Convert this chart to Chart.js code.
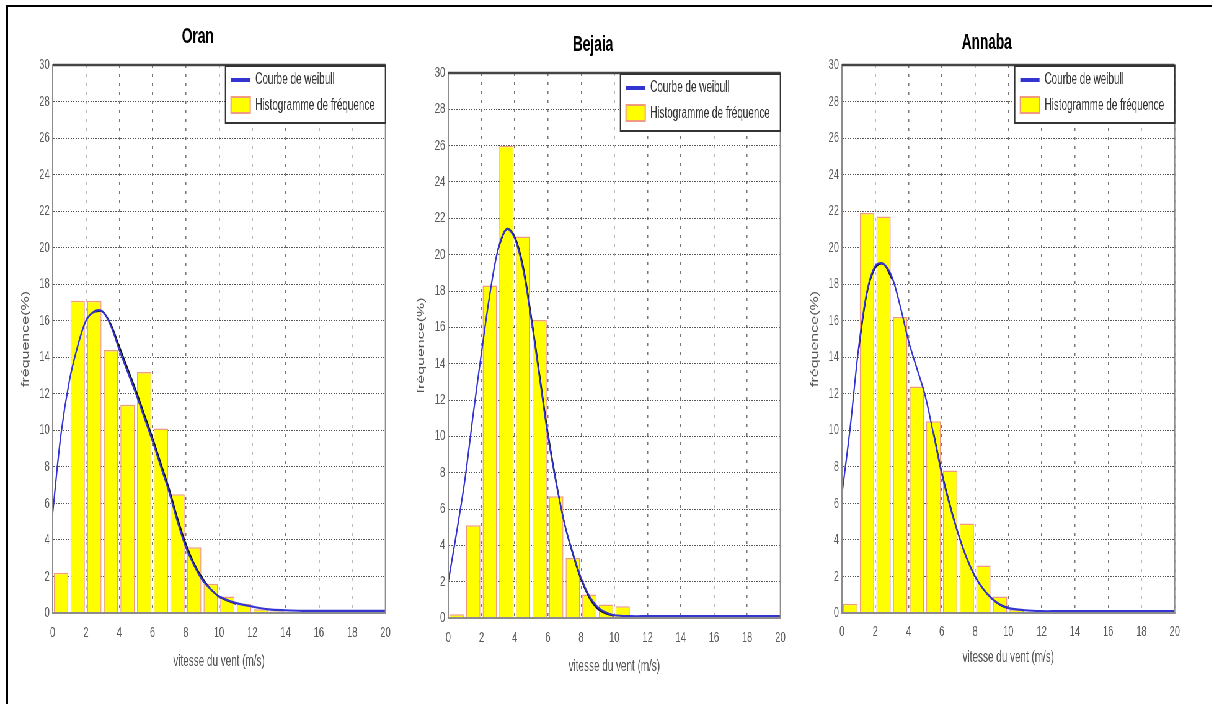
<!DOCTYPE html>
<html>
<head>
<meta charset="utf-8">
<script src="https://cdn.jsdelivr.net/npm/chart.js@4.4.1/dist/chart.umd.min.js"></script>
<style>
  html, body { margin: 0; padding: 0; background: #fff; }
  body { width: 1212px; height: 704px; position: relative; overflow: hidden; }
  #frame { position: absolute; left: 6px; top: 5px; width: 1300px; height: 800px;
           border-left: 2px solid #000; border-top: 2px solid #000; }
  /* the source picture is squeezed horizontally, so the charts are drawn wide and scaled down */
  #wrap { position: absolute; left: 0; top: 0; width: 1955px; height: 704px;
          transform: scaleX(0.62); transform-origin: 0 0; }
  #wrap canvas { position: absolute; top: 0; }
</style>
</head>
<body>
<div id="frame"></div>
<div id="wrap">
  <canvas id="oran"></canvas>
  <canvas id="bejaia"></canvas>
  <canvas id="annaba"></canvas>
</div>
<script>
// bin centres of the histogram (m/s)
const binCenters = [0.5, 1.5, 2.5, 3.5, 4.5, 5.5, 6.5, 7.5, 8.5, 9.5, 10.5, 11.5, 12.5, 13.5];

const oranFreq   = [2.2, 17.1, 17.1, 14.4, 11.4, 13.2, 10.1, 6.5, 3.6, 1.6, 0.9, 0.5, 0.2, 0.1];
const bejaiaFreq = [0.2, 5.1, 18.3, 26.0, 21.0, 16.4, 6.7, 3.3, 1.3, 0.75, 0.65, null, null, null];
const annabaFreq = [0.5, 21.9, 21.7, 16.2, 12.4, 10.5, 7.8, 4.9, 2.6, 0.9, 0.2, null, null, null];

// wind speeds where the weibull curves are read
const curveX = [0, 0.5, 1, 1.5, 2, 2.5, 3, 3.5, 4, 4.5, 5, 5.5, 6, 6.5, 7, 7.5, 8, 8.5, 9, 9.5, 10,
                11, 12, 13, 14, 15, 16, 17, 18, 19, 20];

const oranWeibull = [5.5, 9.8, 12.7, 14.6, 16.0, 16.5, 16.5, 15.7, 14.4, 13.2, 12.0, 10.7, 9.4, 8.0, 6.6,
                     5.0, 3.6, 2.6, 1.8, 1.3, 0.9, 0.55, 0.35, 0.2, 0.15, 0.12, 0.12, 0.12, 0.12, 0.12, 0.12];
const bejaiaWeibull = [2.0, 4.7, 7.6, 11.2, 14.6, 17.8, 20.3, 21.4, 20.9, 19.2, 16.4, 13.2, 10.0, 7.4, 5.2,
                       3.6, 2.2, 1.2, 0.6, 0.3, 0.15, 0.1, 0.1, 0.1, 0.1, 0.1, 0.1, 0.1, 0.1, 0.1, 0.1];
const annabaWeibull = [6.5, 10.2, 14.5, 17.6, 19.0, 19.1, 18.4, 16.8, 14.9, 13.4, 11.9, 9.8, 7.6, 5.8, 4.3,
                       3.0, 2.0, 1.3, 0.8, 0.45, 0.27, 0.15, 0.1, 0.1, 0.1, 0.1, 0.1, 0.1, 0.1, 0.1, 0.1];

// second (black) curve, visible only where it leaves the blue one
const oranBlack = [null, null, null, null, null, 16.5, 16.5, 15.8, 14.6, 13.4, 12.2, 10.9, 9.6, 8.2, 6.8,
                   5.2, 3.8, 2.7, 1.9, 1.3, 0.9, 0.5, null, null, null, null, null, null, null, null, null];
const bejaiaBlack = [null, null, null, null, null, null, 20.3, 21.4, 21.0, 19.4, 16.6, 13.4, 10.2, 7.5, 5.2,
                     3.5, 2.1, 1.1, 0.5, 0.25, 0.12, null, null, null, null, null, null, null, null, null, null];
const annabaBlack = [null, null, 14.4, 17.5, 18.9, 19.1, 18.3, null, null, null, null, 9.9, 7.7, 5.9, 4.3,
                     3.0, 2.0, 1.3, 0.8, 0.45, 0.27, null, null, null, null, null, null, null, null, null, null];

const titles = ['Oran', 'Bejaia', 'Annaba'];

const S = 0.62;      // horizontal squeeze of the wrapper
const H = 690;       // canvas height
const YW = 80;       // y axis width (canvas px)
const RP = 8;        // right padding
const FONT = "'Liberation Sans', Arial, sans-serif";

// plot areas in page pixels
const panels = [
  { id: 'oran',   left: 53,  right: 393,  top: 65, bottom: 613, titleY: 37, tickY: 633, xTitleY: 662,
    freq: oranFreq, weibull: oranWeibull, black: oranBlack },
  { id: 'bejaia', left: 448, right: 787,  top: 73, bottom: 618, titleY: 45, tickY: 638, xTitleY: 667,
    freq: bejaiaFreq, weibull: bejaiaWeibull, black: bejaiaBlack },
  { id: 'annaba', left: 842, right: 1181, top: 65, bottom: 613, titleY: 43, tickY: 632, xTitleY: 658,
    freq: annabaFreq, weibull: annabaWeibull, black: annabaBlack }
];

const blue = '#3434d2';
const barFill = '#ffff00';
const barEdge = '#f09a80';

const frameLegend = {
  id: 'frameLegend',
  afterDatasetsDraw(chart) {
    const { ctx, chartArea: a } = chart;
    ctx.save();
    ctx.strokeStyle = '#8c8c8c';
    ctx.lineWidth = 2;
    ctx.strokeRect(a.left, a.top, a.right - a.left, a.bottom - a.top);
    ctx.strokeStyle = '#444';
    ctx.lineWidth = 2.5;
    ctx.beginPath();
    ctx.moveTo(a.left, a.top);
    ctx.lineTo(a.right, a.top);
    ctx.stroke();

    // legend box, top right of the plot
    const w = 258, h = 57, x = a.right - w, y = a.top + 1;
    ctx.fillStyle = '#fff';
    ctx.fillRect(x, y, w, h);
    ctx.strokeStyle = '#333';
    ctx.lineWidth = 2;
    ctx.strokeRect(x, y, w, h);
    ctx.strokeStyle = blue;
    ctx.lineWidth = 4;
    ctx.beginPath();
    ctx.moveTo(x + 9, y + 14);
    ctx.lineTo(x + 40, y + 14);
    ctx.stroke();
    ctx.fillStyle = barFill;
    ctx.fillRect(x + 9, y + 31, 31, 16);
    ctx.strokeStyle = barEdge;
    ctx.lineWidth = 2;
    ctx.strokeRect(x + 9, y + 31, 31, 16);
    ctx.fillStyle = '#333';
    ctx.font = '16px ' + FONT;
    ctx.textBaseline = 'middle';
    ctx.fillText(chart.data.datasets[0].label, x + 48, y + 14);
    ctx.fillText(chart.data.datasets[2].label, x + 48, y + 40);
    ctx.restore();
  }
};

panels.forEach(function (p, i) {
  const plotW = (p.right - p.left) / S;
  const canvas = document.getElementById(p.id);
  const cw = Math.round(YW + plotW + RP);
  canvas.width = cw;
  canvas.height = H;
  canvas.style.left = (p.left / S - YW) + 'px';

  const padTop = p.titleY - 13.2;
  const titlePadBottom = p.top - padTop - 26.4;

  new Chart(canvas, {
    type: 'bar',
    data: {
      datasets: [
        {
          type: 'line',
          label: 'Courbe de weibull',
          data: curveX.map((x, k) => ({ x: x, y: p.weibull[k] })),
          borderColor: blue,
          borderWidth: 2.2,
          pointRadius: 0,
          tension: 0.35,
          order: 1
        },
        {
          type: 'line',
          label: 'ajustement',
          data: curveX.map((x, k) => ({ x: x, y: p.black[k] })),
          borderColor: '#111',
          borderWidth: 2,
          pointRadius: 0,
          tension: 0.35,
          spanGaps: false,
          order: 2
        },
        {
          type: 'bar',
          label: 'Histogramme de fréquence',
          data: binCenters.map((x, k) => ({ x: x, y: p.freq[k] })),
          backgroundColor: barFill,
          borderColor: barEdge,
          borderWidth: 1.5,
          barPercentage: 0.86,
          categoryPercentage: 1,
          order: 3
        }
      ]
    },
    options: {
      responsive: false,
      animation: false,
      layout: { padding: { top: padTop, right: RP, left: 0, bottom: 0 } },
      plugins: {
        legend: { display: false },
        tooltip: { enabled: false },
        title: {
          display: true,
          text: titles[i],
          color: '#000',
          font: { family: FONT, size: 22, weight: 'bold', lineHeight: 1.2 },
          padding: { top: 0, bottom: titlePadBottom }
        }
      },
      scales: {
        x: {
          type: 'linear',
          min: 0,
          max: 20,
          offset: false,
          afterFit: function (scale) { scale.height = H - p.bottom; },
          ticks: {
            stepSize: 2,
            autoSkip: false,
            maxRotation: 0,
            padding: p.tickY - p.bottom - 9,
            color: '#5a5a5a',
            font: { family: FONT, size: 15 }
          },
          grid: { offset: false, drawTicks: false, color: '#777', lineWidth: 1.5 },
          border: { display: true, color: '#8c8c8c', width: 2, dash: [3, 6] },
          title: {
            display: true,
            text: 'vitesse du vent (m/s)',
            color: '#555',
            font: { family: FONT, size: 16, lineHeight: 1.2 },
            padding: { top: 0, bottom: H - p.xTitleY - 9.6 }
          }
        },
        y: {
          min: 0,
          max: 30,
          afterFit: function (scale) { scale.width = YW; },
          ticks: {
            stepSize: 2,
            autoSkip: false,
            padding: 5,
            color: '#5a5a5a',
            font: { family: FONT, size: 15 }
          },
          grid: { drawTicks: false, color: '#555', lineWidth: 1 },
          border: { display: true, color: '#8c8c8c', width: 2, dash: [2, 2] },
          title: {
            display: true,
            text: 'fréquence(%)',
            color: '#555',
            font: { family: FONT, size: 16, lineHeight: 1.2 },
            padding: { top: 27, bottom: 0 }
          }
        }
      }
    },
    plugins: [frameLegend]
  });
});
</script>
</body>
</html>
